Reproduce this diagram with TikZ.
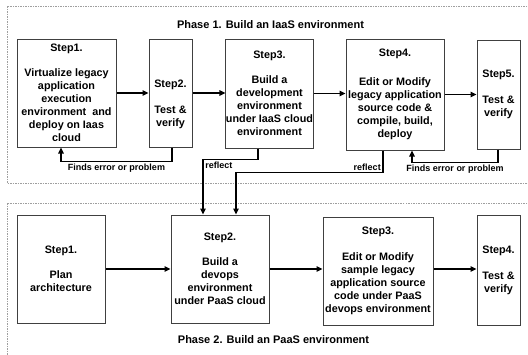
\documentclass[tikz,border=0pt]{standalone}
\usepackage{fontspec}
\setmainfont{Liberation Sans}
\usetikzlibrary{arrows.meta}
\tikzset{
  phaseframe/.style={draw=gray!75, line width=0.9pt, dash pattern=on 1.5pt off 1pt},
  stepbox/.style={draw=black!75, line width=1pt, align=center, inner sep=0pt,
    font=\bfseries\fontsize{10.8}{13}\selectfont},
  flow/.style={draw=black, line width=1.5pt, -{Triangle[length=6pt,width=5.5pt]}},
  fbnote/.style={font=\bfseries\fontsize{9}{10}\selectfont, inner sep=1.5pt},
  phasetitle/.style={font=\bfseries\fontsize{11}{13}\selectfont, inner sep=0pt}
}
\begin{document}
\begin{tikzpicture}[x=1pt,y=-1pt]
\useasboundingbox (0,0) rectangle (528,354);
% phase frames (right and bottom edges run off the page)
\draw[phaseframe] (7,6) rectangle (545,183);
\draw[phaseframe] (7,203) rectangle (545,375);
\node[phasetitle] (t1) at (270.5,25) {Phase 1. Build an IaaS environment};
\node[phasetitle] (t2) at (273.5,340) {Phase 2. Build an PaaS environment};
% phase 1
\node[stepbox, minimum width=99pt, minimum height=108pt] (s1) at (66.5,93)
  {Step1.\\[12.5pt]Virtualize legacy\\application\\execution\\environment~ and\\deploy on Iaas\\cloud};
\node[stepbox, minimum width=43pt, minimum height=108pt] (s2) at (170.5,93)
  {\rule{0pt}{30pt}Step2.\\[12.5pt]Test \&\\verify};
\node[stepbox, minimum width=87pt, minimum height=109pt] (s3) at (269.5,93.5)
  {Step3.\\[12.5pt]Build a\\development\\environment\\under IaaS cloud\\environment};
\node[stepbox, minimum width=98pt, minimum height=111pt] (s4) at (395,94.5)
  {Step4.\\[16pt]Edit or Modify\\legacy application\\source code \&\\compile, build,\\deploy};
\node[stepbox, minimum width=43pt, minimum height=109pt] (s5) at (498.5,94.5)
  {Step5.\\[12.5pt]Test \&\\verify};
\draw[flow] (s1.east) -- (s1.east -| s2.west);
\draw[flow] (s2.east) -- (s2.east -| s3.west);
\draw[flow] (s3.east) -- (s3.east -| s4.west);
\draw[flow] (s4.east) -- (s4.east -| s5.west);
\draw[flow] ([xshift=1.5pt]s2.south) |- node[pos=0.75, below, fbnote] (fb1) {Finds error or problem}
  ([xshift=-5.5pt,yshift=-14pt]s1.south) -- ([xshift=-5.5pt]s1.south);
\draw[flow] ([xshift=-0.5pt]s5.south) |- node[pos=0.75, below, fbnote] (fb2) {Finds error or problem}
  ([xshift=17pt,yshift=-12pt]s4.south) -- ([xshift=17pt]s4.south);
% phase 2
\node[stepbox, minimum width=88pt, minimum height=108pt] (q1) at (61,269)
  {Step1.\\[12.5pt]Plan\\architecture};
\node[stepbox, minimum width=98pt, minimum height=108pt] (q2) at (220,269)
  {Step2.\\[12.5pt]Build a\\devops\\environment\\under PaaS cloud};
\node[stepbox, minimum width=110pt, minimum height=108pt] (q3) at (378,271)
  {Step3.\\[13pt]Edit or Modify\\sample legacy\\application source\\code under PaaS\\devops environment};
\node[stepbox, minimum width=43pt, minimum height=110pt] (q4) at (498.5,270)
  {Step4.\\[13pt]Test \&\\verify};
\draw[flow] (q1.east) -- (q1.east -| q2.west);
\draw[flow] (q2.east) -- (q2.east -| q3.west);
\draw[flow] (q2.east -| q3.east) -- (q2.east -| q4.west);
% reflect links
\draw[flow] ([xshift=-11.5pt]s3.south) -- ++(0,11) -| node[pos=0.5, below right, fbnote] (rf1) {reflect}
  ([xshift=-17pt]q2.north);
\draw[flow] ([xshift=-12pt]s4.south) -- ++(0,22) node[above left, fbnote] (rf2) {reflect}
  -| ([xshift=16pt]q2.north);
\end{tikzpicture}
\end{document}
